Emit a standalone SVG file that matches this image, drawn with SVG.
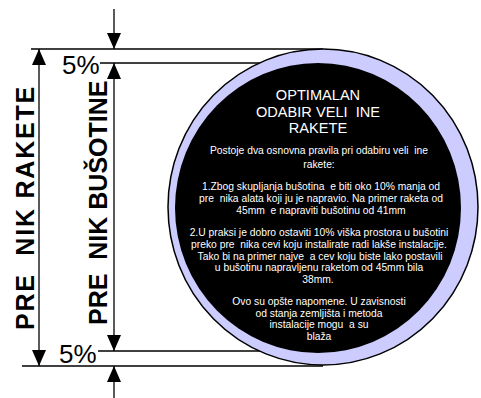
<svg xmlns="http://www.w3.org/2000/svg" width="481" height="398" viewBox="0 0 481 398">
<style>
.ln{stroke:#000;stroke-width:1.3;fill:none}
.ar{stroke:#000;stroke-width:1.3;fill:none}
.pct{font-family:"Liberation Sans",Arial,sans-serif;font-size:26px;fill:#000}
.vt{font-family:"Liberation Sans",Arial,sans-serif;font-size:25px;font-weight:bold;fill:#000;white-space:pre}
.tt{font-family:"Liberation Sans",Arial,sans-serif;font-size:14.6px;fill:#fff;text-anchor:middle;white-space:pre}
.bt{font-family:"Liberation Sans",Arial,sans-serif;font-size:10.3px;fill:#fff;text-anchor:middle;white-space:pre}
</style>
<defs>
<marker id="ah" markerUnits="userSpaceOnUse" markerWidth="16" markerHeight="18" viewBox="0 0 16 14" refX="16" refY="7" orient="auto">
<path d="M0,0 L16,7 L0,14 Z" fill="#000"/>
</marker>
</defs>
<g id="connectors">
<line class="ln" x1="31" y1="49" x2="323" y2="49"/>
<line class="ln" x1="100" y1="63" x2="320" y2="63"/>
<line class="ln" x1="98" y1="351" x2="320" y2="351"/>
<line class="ln" x1="22" y1="366" x2="323" y2="366"/>
<line class="ar" x1="114" y1="9" x2="114" y2="49" marker-end="url(#ah)"/>
<line class="ar" x1="114" y1="398" x2="114" y2="366" marker-end="url(#ah)"/>
<line class="ar" x1="39" y1="200" x2="39" y2="49" marker-end="url(#ah)"/>
<line class="ar" x1="39" y1="200" x2="39" y2="366" marker-end="url(#ah)"/>
<line class="ar" x1="114" y1="200" x2="114" y2="63" marker-end="url(#ah)"/>
<line class="ar" x1="114" y1="200" x2="114" y2="351" marker-end="url(#ah)"/>
</g>
<g id="label-top-pct"><text class="pct" x="62" y="74">5%</text></g>
<g id="label-bottom-pct"><text class="pct" x="59" y="363">5%</text></g>
<g id="label-rakete"><text class="vt" xml:space="preserve" transform="translate(34,330) rotate(-90)" letter-spacing="1.8">PRE  NIK RAKETE</text></g>
<g id="label-busotine"><text class="vt" xml:space="preserve" transform="translate(107,325) rotate(-90)">PRE  NIK BUŠOTINE</text></g>
<g id="circle">
<ellipse cx="323" cy="207" rx="155" ry="158" fill="#ccccff" stroke="#000" stroke-width="1.5"/>
<ellipse cx="318" cy="208" rx="143" ry="145" fill="#000"/>
<text class="tt" x="318" y="100">OPTIMALAN</text>
<text class="tt" xml:space="preserve" x="318" y="117">ODABIR VELI  INE</text>
<text class="tt" x="318" y="133">RAKETE</text>
<text class="bt" xml:space="preserve" x="319" y="154">Postoje dva osnovna pravila pri odabiru veli  ine</text>
<text class="bt" x="319" y="168">rakete:</text>
<text class="bt" xml:space="preserve" x="321" y="190">1.Zbog skupljanja bušotina  e biti oko 10% manja od</text>
<text class="bt" xml:space="preserve" x="321" y="202">pre  nika alata koji ju je napravio. Na primer raketa od</text>
<text class="bt" xml:space="preserve" x="321" y="214">45mm  e napraviti bušotinu od 41mm</text>
<text class="bt" x="319" y="236">2.U praksi je dobro ostaviti 10% viška prostora u bušotini</text>
<text class="bt" xml:space="preserve" x="319" y="248">preko pre  nika cevi koju instalirate radi lakše instalacije.</text>
<text class="bt" xml:space="preserve" x="320" y="260">Tako bi na primer najve  a cev koju biste lako postavili</text>
<text class="bt" x="319" y="271">u bušotinu napravljenu raketom od 45mm bila</text>
<text class="bt" x="318" y="283">38mm.</text>
<text class="bt" x="319" y="305">Ovo su opšte napomene. U zavisnosti</text>
<text class="bt" x="319" y="317">od stanja zemljišta i metoda</text>
<text class="bt" xml:space="preserve" x="319" y="328">instalacije mogu  a su</text>
<text class="bt" x="319" y="340">blaža</text>
</g>
</svg>
